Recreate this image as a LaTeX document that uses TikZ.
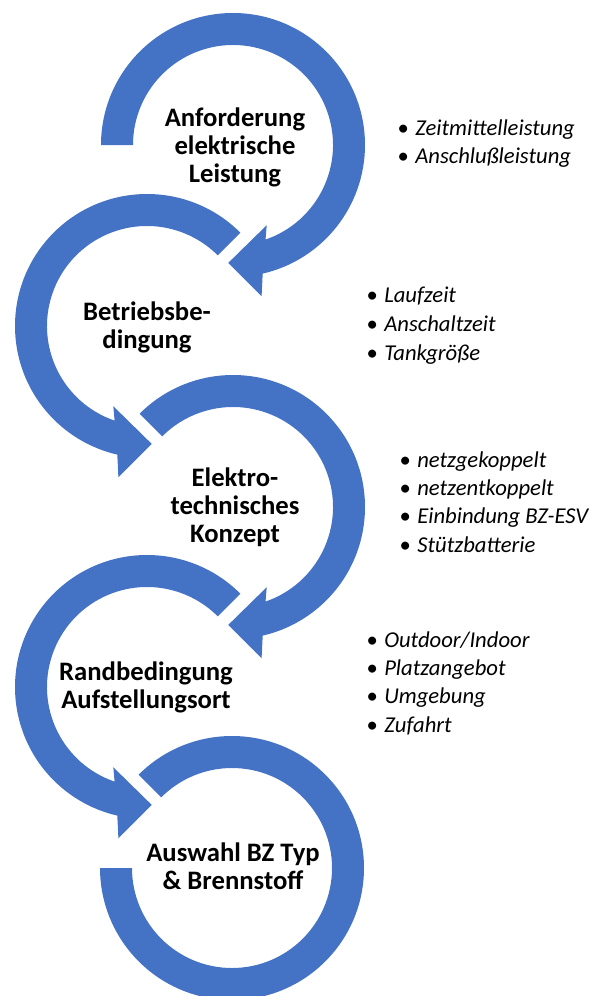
\documentclass[tikz,border=0pt]{standalone}
\usepackage{fontspec}
\setmainfont{Carlito}
\usepackage{tikz}

\definecolor{accentblue}{RGB}{68,114,196}
\tikzset{
  cyclearrow/.style={fill=accentblue, draw=none},
  steptitle/.style={align=center, inner sep=0pt, font=\fontsize{20}{21}\selectfont\bfseries},
  bulletitem/.style={anchor=base west, inner sep=0pt, font=\fontsize{17}{20}\selectfont\itshape},
}
\newcommand{\bulletmark}{\makebox[18pt]{\upshape\textbullet}}

\begin{document}
\begin{tikzpicture}[x=0.75pt,y=0.75pt,yscale=-1,xscale=1]
\path[use as bounding box] (0,0) rectangle (590,996);

%Shape: Circular Arrow [Anforderung]
\fill[cyclearrow, shift={(233,145)}] (180:132) arc[start angle=180, end angle=437, radius=132] -- (439.3:154) -- (452.3:118) -- (427.2:87) -- (431:100) arc[start angle=431, end angle=180, radius=100] -- cycle ;
%Shape: Circular Arrow [Betrieb]
\fill[cyclearrow, shift={(147,326)}] (-45:132) arc[start angle=-45, end angle=-257, radius=132] -- (-259.3:154) -- (-272.3:118) -- (-247.2:87) -- (-251.1:100) arc[start angle=-251.1, end angle=-45, radius=100] -- cycle ;
%Shape: Circular Arrow [Konzept]
\fill[cyclearrow, shift={(233,507)}] (225:132) arc[start angle=225, end angle=437, radius=132] -- (439.3:154) -- (452.3:118) -- (427.2:87) -- (431:100) arc[start angle=431, end angle=225, radius=100] -- cycle ;
%Shape: Circular Arrow [Aufstellungsort]
\fill[cyclearrow, shift={(147,687)}] (-45:132) arc[start angle=-45, end angle=-257, radius=132] -- (-259.3:154) -- (-272.3:118) -- (-247.2:87) -- (-251.1:100) arc[start angle=-251.1, end angle=-45, radius=100] -- cycle ;
%Shape: Circular Arrow [Auswahl], no head
\fill[cyclearrow, shift={(232,868)}] (225:132) arc[start angle=225, end angle=540, radius=132] -- (540:100) arc[start angle=540, end angle=225, radius=100] -- cycle ;

% Text Node
\node[steptitle] (anforderung) at (235,147) {Anforderung\\elektrische\\Leistung};
% Text Node
\node[steptitle] (betrieb) at (147,327) {Betriebsbe-\\dingung};
% Text Node
\node[steptitle] (konzept) at (235,507) {Elektro-\\technisches\\Konzept};
% Text Node
\node[steptitle] (ort) at (146,687) {Randbedingung\\Aufstellungsort};
% Text Node
\node[steptitle] (auswahl) at (233,866) {Auswahl BZ Typ\\\& Brennstoff};

% Text Node
\node[bulletitem] (leistung1) at (391,135) {\bulletmark Zeitmittelleistung};
\node[bulletitem] (leistung2) at (391,163) {\bulletmark Anschlußleistung};
% Text Node
\node[bulletitem] (betrieb1) at (360,302) {\bulletmark Laufzeit};
\node[bulletitem] (betrieb2) at (360,331) {\bulletmark Anschaltzeit};
\node[bulletitem] (betrieb3) at (360,360) {\bulletmark Tankgröße};
% Text Node
\node[bulletitem] (konzept1) at (393,467) {\bulletmark netzgekoppelt};
\node[bulletitem] (konzept2) at (393,495) {\bulletmark netzentkoppelt};
\node[bulletitem] (konzept3) at (393,523) {\bulletmark Einbindung BZ-ESV};
\node[bulletitem] (konzept4) at (393,552) {\bulletmark Stützbatterie};
% Text Node
\node[bulletitem] (ort1) at (360,647) {\bulletmark Outdoor/Indoor};
\node[bulletitem] (ort2) at (360,675) {\bulletmark Platzangebot};
\node[bulletitem] (ort3) at (360,703) {\bulletmark Umgebung};
\node[bulletitem] (ort4) at (360,732) {\bulletmark Zufahrt};

\end{tikzpicture}
\end{document}
